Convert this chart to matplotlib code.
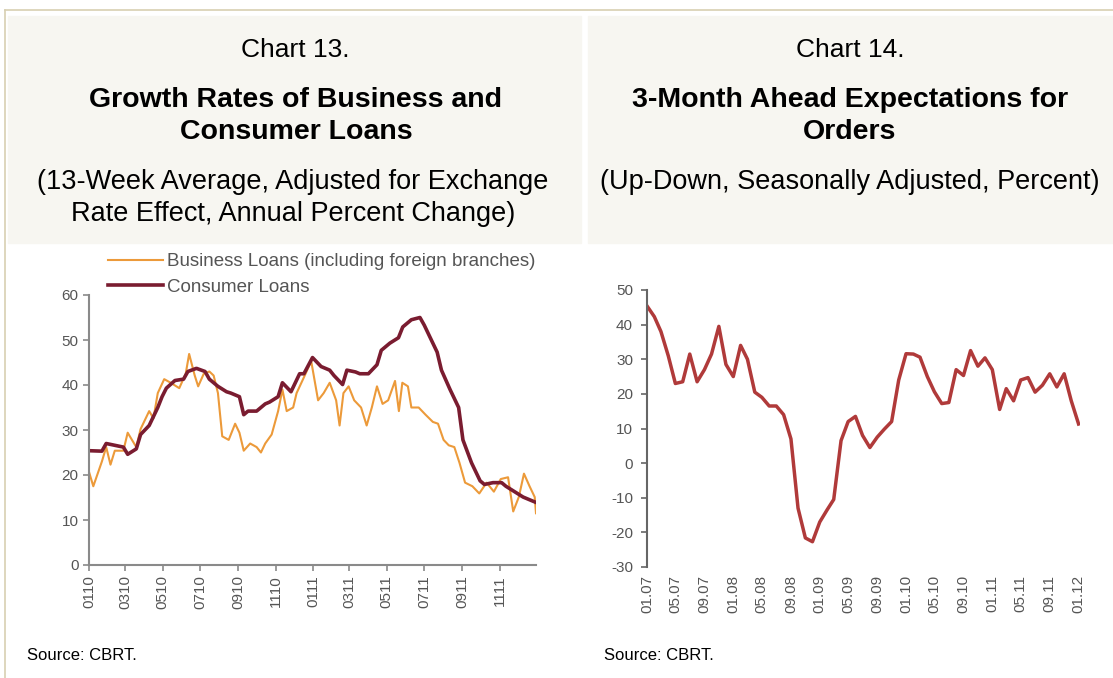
import matplotlib
matplotlib.use("Agg")
import matplotlib.pyplot as plt
from matplotlib.patches import Rectangle
from matplotlib.lines import Line2D
import numpy as np
import pandas as pd

plt.rcParams['font.family'] = ['Liberation Sans', 'DejaVu Sans']
plt.rcParams['axes.unicode_minus'] = False

W, H = 1113, 678

# Chart 13: weekly data, x = weeks since first week of 2010
consWeeks = [0, 3, 4, 8, 9, 11, 12, 14, 16, 17, 18, 20, 22, 23, 25, 27, 28, 30, 32, 33,
             35, 36, 37, 39, 41, 42, 44, 45, 47, 49, 50, 52, 54, 56, 57, 59, 60, 62, 63, 65,
             67, 68, 70, 72, 73, 75, 77, 78, 79, 81, 82, 84, 86, 87, 89, 91, 92, 94, 96, 97,
             99, 101, 102, 104]
consVals = [25.4, 25.3, 27.0, 26.2, 24.6, 25.8, 29.0, 31.0, 35.0, 37.4, 39.3, 41.0, 41.3, 43.0,
            43.7, 43.0, 41.3, 39.7, 38.5, 38.2, 37.4, 33.4, 34.2, 34.2, 35.8, 36.2, 37.4, 40.5,
            38.5, 42.5, 42.5, 46.1, 44.1, 43.3, 42.1, 40.1, 43.3, 42.9, 42.5, 42.5, 44.5, 47.7,
            49.3, 50.5, 52.9, 54.5, 55.0, 53.3, 51.3, 47.3, 43.3, 39.0, 35.0, 27.8, 22.7, 18.7,
            17.9, 18.3, 18.3, 17.5, 16.3, 15.1, 14.7, 13.9]

busWeeks = [0, 1, 3, 4, 5, 6, 8, 9, 10, 11, 12, 14, 15, 16, 17.5, 19, 21, 22.5, 23.3, 24.6,
            25.4, 26.7, 28, 29, 30, 31, 32.5, 34, 35, 36, 37.5, 39, 40, 41, 42.5, 44, 45, 46,
            47.5, 48.3, 50, 51.7, 53.3, 54.6, 56, 57.5, 58.3, 59.2, 60.4, 61.7, 63.3, 64.6,
            65.8, 67, 68.3, 69.6, 71.2, 72.1, 72.9, 74.2, 75, 76.7, 78.3, 80, 81.2, 82.5, 83.7,
            85, 86.2, 87.5, 89.2, 90.8, 92.5, 94.2, 95.8, 97.5, 98.7, 100, 101.2, 102.5, 103.7, 104]
busVals = [20.7, 17.5, 23.0, 26.2, 22.3, 25.4, 25.4, 29.4, 27.8, 26.2, 30.2, 34.2, 32.6, 38.2,
           41.3, 40.5, 39.3, 42.5, 46.9, 42.1, 39.7, 42.5, 43.0, 42.1, 38.2, 28.6, 27.8, 31.4,
           29.4, 25.4, 27.0, 26.2, 25.0, 27.0, 29.0, 34.2, 39.0, 34.2, 35.0, 38.2, 41.7, 45.3,
           36.6, 38.2, 40.5, 36.6, 31.0, 38.2, 39.7, 36.6, 35.0, 31.0, 35.0, 39.7, 35.8, 36.6,
           40.9, 34.2, 40.5, 39.7, 35.0, 35.0, 33.4, 31.8, 31.4, 27.8, 26.6, 26.2, 22.7, 18.3,
           17.5, 15.9, 18.3, 16.3, 19.1, 19.5, 11.9, 15.1, 20.3, 17.5, 15.1, 11.5]

# Chart 14: monthly, Jan 2007 - Jan 2012
ordVals = [45.4, 42.3, 38.0, 31.0, 23.0, 23.5, 31.5, 23.5, 27.0, 31.5, 39.5, 28.5, 25.0,
           34.0, 30.0, 20.5, 19.0, 16.5, 16.5, 14.0, 7.0, -13.0, -21.6, -22.7, -17.0, -13.5,
           -10.5, 6.5, 12.0, 13.5, 8.0, 4.5, 7.5, 9.8, 12.0, 24.0, 31.6, 31.5, 30.6, 25.0,
           20.6, 17.2, 17.5, 27.0, 25.3, 32.5, 28.0, 30.4, 27.0, 15.5, 21.5, 18.0, 24.0, 24.7,
           20.5, 22.5, 25.8, 22.0, 25.8, 18.0, 11.3]

start13 = pd.Timestamp("2010-01-01")
consDates = start13 + pd.to_timedelta(np.array(consWeeks) * 7, unit="D")
busDates = start13 + pd.to_timedelta(np.array(busWeeks) * 7, unit="D")
ordDates = pd.date_range("2007-01-01", periods=len(ordVals), freq="MS")

fig = plt.figure(figsize=(W / 100, H / 100), dpi=100)
fig.patch.set_facecolor("white")

def px(x0, y0, x1, y1):
    return [x0 / W, 1 - y1 / H, (x1 - x0) / W, (y1 - y0) / H]

# header panels and borders
panelCol = "#f7f6f1"
borderCol = "#d8cfb2"
fig.patches.append(Rectangle((8 / W, 1 - 243 / H), (581 - 8) / W, (243 - 16) / H,
                             transform=fig.transFigure, color=panelCol, zorder=0))
fig.patches.append(Rectangle((588 / W, 1 - 243 / H), (W - 588) / W, (243 - 16) / H,
                             transform=fig.transFigure, color=panelCol, zorder=0))
fig.lines.append(Line2D([5 / W, 1], [1 - 10 / H, 1 - 10 / H], transform=fig.transFigure,
                        color=borderCol, lw=1.2))
fig.lines.append(Line2D([5 / W, 5 / W], [0, 1 - 10 / H], transform=fig.transFigure,
                        color=borderCol, lw=1.2))

def ftext(x, y, s, **kw):
    fig.text(x / W, 1 - y / H, s, ha="center", va="center", color="black", **kw)

ftext(295, 50, "Chart 13.", fontsize=19)
ftext(296, 100, "Growth Rates of Business and", fontsize=20.5, fontweight="bold")
ftext(296, 132, "Consumer Loans", fontsize=20.5, fontweight="bold")
ftext(293, 182, "(13-Week Average, Adjusted for Exchange", fontsize=19.5)
ftext(293, 214, "Rate Effect, Annual Percent Change)", fontsize=19.5)

ftext(850, 50, "Chart 14.", fontsize=19)
ftext(850, 100, "3-Month Ahead Expectations for", fontsize=20.5, fontweight="bold")
ftext(850, 132, "Orders", fontsize=20.5, fontweight="bold")
ftext(850, 182, "(Up-Down, Seasonally Adjusted, Percent)", fontsize=19.5)

fig.text(27 / W, 1 - 655 / H, "Source: CBRT.", fontsize=12, va="center")
fig.text(604 / W, 1 - 655 / H, "Source: CBRT.", fontsize=12, va="center")

# ---- Chart 13
axisCol = "#8a8a8a"
ax1 = fig.add_axes(px(89, 295, 536, 565))
ax1.plot(busDates, busVals, color="#ec9a3a", lw=1.5, label="Business Loans (including foreign branches)")
ax1.plot(consDates, consVals, color="#7a1c30", lw=2.6, label="Consumer Loans")
ax1.set_xlim(start13, start13 + pd.Timedelta(days=104 * 7))
ax1.set_ylim(0, 60)
ax1.set_yticks(range(0, 61, 10))
ticks13 = pd.date_range("2010-01-01", "2011-11-01", freq="2MS")
ax1.set_xticks(ticks13)
ax1.set_xticklabels([d.strftime("%m%y") for d in ticks13], rotation=90)
for s in ["top", "right"]:
    ax1.spines[s].set_visible(False)
for s in ["left", "bottom"]:
    ax1.spines[s].set_color(axisCol)
    ax1.spines[s].set_linewidth(1.5)
ax1.tick_params(colors=axisCol, labelcolor="#555555", labelsize=11, length=4, width=1.2)
ax1.legend(loc="upper left", bbox_to_anchor=(108 / W, 1 - 253 / H), bbox_transform=fig.transFigure,
           frameon=False, fontsize=13.5, handlelength=2.95, handletextpad=0.2, labelspacing=0.45,
           labelcolor="#555555", borderaxespad=0, borderpad=0)

# ---- Chart 14
ax2 = fig.add_axes(px(647, 290, 1080, 567))
ax2.plot(ordDates, ordVals, color="#b03a3a", lw=2.5)
ax2.set_xlim(ordDates[0], ordDates[-1] + pd.Timedelta(days=6))
ax2.set_ylim(-30, 50)
ax2.set_yticks(range(-30, 51, 10))
ticks14 = pd.date_range("2007-01-01", "2012-01-01", freq="4MS")
ax2.set_xticks(ticks14)
ax2.set_xticklabels([d.strftime("%m.%y") for d in ticks14], rotation=90)
for s in ["top", "right", "bottom"]:
    ax2.spines[s].set_visible(False)
ax2.spines["left"].set_color("#666666")
ax2.spines["left"].set_linewidth(1.5)
ax2.tick_params(axis="y", colors="#666666", labelcolor="#555555", labelsize=11, length=4, width=1.2, pad=6)
ax2.tick_params(axis="x", length=0, labelcolor="#555555", labelsize=11, pad=6)

fig.savefig("out.png", dpi=100)
